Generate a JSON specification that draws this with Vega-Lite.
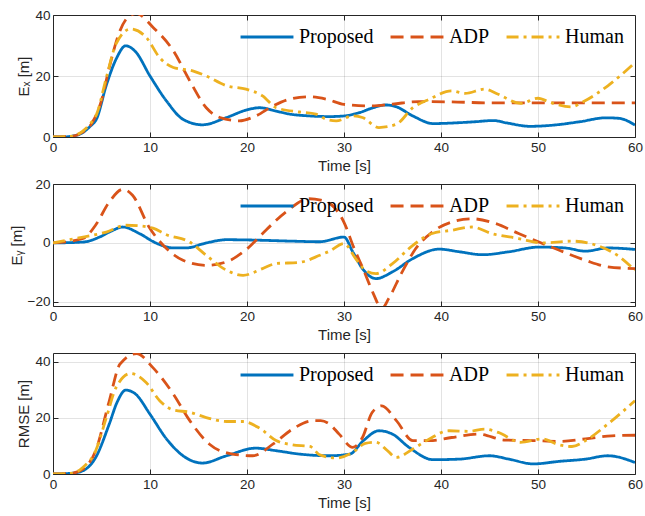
{
  "$schema": "https://vega.github.io/schema/vega-lite/v6.json",
  "padding": {"left": 8, "top": 7, "right": 5, "bottom": 0},
  "background": "white",
  "datasets": {
    "ex": [
      {"t":0,"v":0,"m":"Proposed"},{"t":1,"v":0,"m":"Proposed"},{"t":2,"v":0.3,"m":"Proposed"},{"t":3,"v":1.3,"m":"Proposed"},{"t":3.8,"v":3.4,"m":"Proposed"},{"t":4.5,"v":6,"m":"Proposed"},{"t":5.5,"v":17,"m":"Proposed"},{"t":6.5,"v":25.5,"m":"Proposed"},{"t":7.5,"v":29.9,"m":"Proposed"},{"t":8.5,"v":28,"m":"Proposed"},{"t":10,"v":20,"m":"Proposed"},{"t":11.7,"v":11.8,"m":"Proposed"},{"t":13.4,"v":5.8,"m":"Proposed"},{"t":15.4,"v":4,"m":"Proposed"},{"t":17.9,"v":6.4,"m":"Proposed"},{"t":20,"v":8.9,"m":"Proposed"},{"t":21.3,"v":9.6,"m":"Proposed"},{"t":23,"v":8.5,"m":"Proposed"},{"t":24.4,"v":7.5,"m":"Proposed"},{"t":26,"v":7,"m":"Proposed"},{"t":28.5,"v":6.7,"m":"Proposed"},{"t":30,"v":6.9,"m":"Proposed"},{"t":31.6,"v":8,"m":"Proposed"},{"t":33,"v":9.6,"m":"Proposed"},{"t":34.3,"v":10.5,"m":"Proposed"},{"t":35.4,"v":9.9,"m":"Proposed"},{"t":37.1,"v":6.9,"m":"Proposed"},{"t":39.2,"v":4.4,"m":"Proposed"},{"t":41.9,"v":4.7,"m":"Proposed"},{"t":43.5,"v":5,"m":"Proposed"},{"t":45.4,"v":5.4,"m":"Proposed"},{"t":46.8,"v":4.6,"m":"Proposed"},{"t":49.2,"v":3.5,"m":"Proposed"},{"t":51.6,"v":3.9,"m":"Proposed"},{"t":54.3,"v":5,"m":"Proposed"},{"t":57,"v":6.3,"m":"Proposed"},{"t":58.4,"v":6.1,"m":"Proposed"},{"t":60,"v":3.9,"m":"Proposed"},
      {"t":0,"v":0,"m":"ADP"},{"t":2,"v":0.3,"m":"ADP"},{"t":3,"v":1.5,"m":"ADP"},{"t":4,"v":4.5,"m":"ADP"},{"t":5,"v":12,"m":"ADP"},{"t":5.8,"v":22.8,"m":"ADP"},{"t":6.9,"v":34.8,"m":"ADP"},{"t":7.8,"v":39.5,"m":"ADP"},{"t":8.6,"v":40.5,"m":"ADP"},{"t":10.3,"v":36,"m":"ADP"},{"t":12.4,"v":28.3,"m":"ADP"},{"t":14.1,"v":18.4,"m":"ADP"},{"t":15.8,"v":9.6,"m":"ADP"},{"t":17.2,"v":6.4,"m":"ADP"},{"t":19.2,"v":5.3,"m":"ADP"},{"t":20.9,"v":6.9,"m":"ADP"},{"t":22.7,"v":10.2,"m":"ADP"},{"t":24.4,"v":12.4,"m":"ADP"},{"t":26.4,"v":13.2,"m":"ADP"},{"t":28.2,"v":12.4,"m":"ADP"},{"t":30,"v":10.7,"m":"ADP"},{"t":32.6,"v":10.2,"m":"ADP"},{"t":35,"v":10.8,"m":"ADP"},{"t":37.7,"v":11.6,"m":"ADP"},{"t":41.1,"v":11.5,"m":"ADP"},{"t":45,"v":11.2,"m":"ADP"},{"t":50,"v":11.2,"m":"ADP"},{"t":55,"v":11.2,"m":"ADP"},{"t":60,"v":11.2,"m":"ADP"},
      {"t":0,"v":0,"m":"Human"},{"t":2,"v":0.3,"m":"Human"},{"t":3,"v":1.8,"m":"Human"},{"t":3.8,"v":4.2,"m":"Human"},{"t":4.5,"v":7.5,"m":"Human"},{"t":5.5,"v":19.5,"m":"Human"},{"t":6.5,"v":30.5,"m":"Human"},{"t":8,"v":35.4,"m":"Human"},{"t":9.6,"v":32.7,"m":"Human"},{"t":11,"v":26,"m":"Human"},{"t":12.4,"v":22.8,"m":"Human"},{"t":14.4,"v":21.7,"m":"Human"},{"t":15.8,"v":20,"m":"Human"},{"t":17.9,"v":16.8,"m":"Human"},{"t":19.9,"v":15.7,"m":"Human"},{"t":21.6,"v":13.5,"m":"Human"},{"t":23,"v":9.6,"m":"Human"},{"t":25.4,"v":8.2,"m":"Human"},{"t":27.1,"v":7.5,"m":"Human"},{"t":28.2,"v":5.8,"m":"Human"},{"t":29.2,"v":5.3,"m":"Human"},{"t":30.9,"v":6.9,"m":"Human"},{"t":31.9,"v":6.4,"m":"Human"},{"t":33.6,"v":3.1,"m":"Human"},{"t":35.4,"v":4.2,"m":"Human"},{"t":37.1,"v":9.6,"m":"Human"},{"t":38.8,"v":12.4,"m":"Human"},{"t":41.1,"v":15.1,"m":"Human"},{"t":42.5,"v":14.3,"m":"Human"},{"t":44.5,"v":15.7,"m":"Human"},{"t":45.9,"v":14,"m":"Human"},{"t":48.2,"v":11,"m":"Human"},{"t":50,"v":12.7,"m":"Human"},{"t":51.3,"v":11.3,"m":"Human"},{"t":53.4,"v":9.9,"m":"Human"},{"t":54.8,"v":11.8,"m":"Human"},{"t":57.2,"v":16.8,"m":"Human"},{"t":60,"v":24.4,"m":"Human"}
    ],
    "ey": [
      {"t":0,"v":0,"m":"Proposed"},{"t":3.1,"v":0.3,"m":"Proposed"},{"t":4.8,"v":2,"m":"Proposed"},{"t":6,"v":4,"m":"Proposed"},{"t":7.2,"v":5.4,"m":"Proposed"},{"t":8.9,"v":3.2,"m":"Proposed"},{"t":10.6,"v":0,"m":"Proposed"},{"t":12.4,"v":-1.7,"m":"Proposed"},{"t":13.7,"v":-1.7,"m":"Proposed"},{"t":15.8,"v":0,"m":"Proposed"},{"t":17.9,"v":1.1,"m":"Proposed"},{"t":20.3,"v":1,"m":"Proposed"},{"t":24.7,"v":0.6,"m":"Proposed"},{"t":27.5,"v":0.4,"m":"Proposed"},{"t":30,"v":2,"m":"Proposed"},{"t":30.9,"v":-3,"m":"Proposed"},{"t":31.9,"v":-8.7,"m":"Proposed"},{"t":33.3,"v":-12.1,"m":"Proposed"},{"t":35,"v":-9.8,"m":"Proposed"},{"t":37.1,"v":-5.3,"m":"Proposed"},{"t":39.8,"v":-2.1,"m":"Proposed"},{"t":41.9,"v":-3,"m":"Proposed"},{"t":44.3,"v":-4,"m":"Proposed"},{"t":47,"v":-3,"m":"Proposed"},{"t":50.1,"v":-1.4,"m":"Proposed"},{"t":52.8,"v":-1.7,"m":"Proposed"},{"t":54.9,"v":-2.8,"m":"Proposed"},{"t":57.2,"v":-1.7,"m":"Proposed"},{"t":60,"v":-2.2,"m":"Proposed"},
      {"t":0,"v":0,"m":"ADP"},{"t":3.1,"v":1.5,"m":"ADP"},{"t":4.4,"v":6.1,"m":"ADP"},{"t":5.8,"v":13.9,"m":"ADP"},{"t":7.2,"v":18.2,"m":"ADP"},{"t":8.2,"v":16.2,"m":"ADP"},{"t":9.9,"v":5.4,"m":"ADP"},{"t":11.7,"v":-1.9,"m":"ADP"},{"t":13.4,"v":-5.9,"m":"ADP"},{"t":15.8,"v":-7.6,"m":"ADP"},{"t":17.9,"v":-6.4,"m":"ADP"},{"t":19.9,"v":-2.3,"m":"ADP"},{"t":22,"v":4.5,"m":"ADP"},{"t":24,"v":10.5,"m":"ADP"},{"t":26.4,"v":15,"m":"ADP"},{"t":27.6,"v":14.5,"m":"ADP"},{"t":29,"v":12,"m":"ADP"},{"t":30,"v":7,"m":"ADP"},{"t":31,"v":-1.5,"m":"ADP"},{"t":32,"v":-9,"m":"ADP"},{"t":33,"v":-17,"m":"ADP"},{"t":33.9,"v":-22.3,"m":"ADP"},{"t":34.6,"v":-18.9,"m":"ADP"},{"t":36,"v":-9.8,"m":"ADP"},{"t":37.4,"v":-1.9,"m":"ADP"},{"t":39.1,"v":3.7,"m":"ADP"},{"t":41.1,"v":7.1,"m":"ADP"},{"t":43.2,"v":8.2,"m":"ADP"},{"t":45.6,"v":6.6,"m":"ADP"},{"t":48,"v":3.2,"m":"ADP"},{"t":50.1,"v":0.3,"m":"ADP"},{"t":52.2,"v":-2.5,"m":"ADP"},{"t":54.9,"v":-5.9,"m":"ADP"},{"t":57.2,"v":-8.1,"m":"ADP"},{"t":60,"v":-8.7,"m":"ADP"},
      {"t":0,"v":0,"m":"Human"},{"t":3.1,"v":2,"m":"Human"},{"t":5.5,"v":3.7,"m":"Human"},{"t":7.5,"v":6,"m":"Human"},{"t":8.9,"v":5.8,"m":"Human"},{"t":10.3,"v":5,"m":"Human"},{"t":11.7,"v":2.8,"m":"Human"},{"t":14.1,"v":0.3,"m":"Human"},{"t":15.8,"v":-4.2,"m":"Human"},{"t":17.9,"v":-9.3,"m":"Human"},{"t":19.6,"v":-11,"m":"Human"},{"t":21.6,"v":-8.7,"m":"Human"},{"t":23,"v":-7,"m":"Human"},{"t":25.4,"v":-6.6,"m":"Human"},{"t":27.5,"v":-4.2,"m":"Human"},{"t":28.5,"v":-2.8,"m":"Human"},{"t":30,"v":-0.2,"m":"Human"},{"t":31.2,"v":-5.3,"m":"Human"},{"t":32.2,"v":-9.3,"m":"Human"},{"t":33.3,"v":-10.4,"m":"Human"},{"t":35,"v":-7,"m":"Human"},{"t":37.1,"v":-0.8,"m":"Human"},{"t":39.1,"v":3.2,"m":"Human"},{"t":41.1,"v":4.3,"m":"Human"},{"t":43.2,"v":5.4,"m":"Human"},{"t":45.2,"v":3.2,"m":"Human"},{"t":48,"v":1.5,"m":"Human"},{"t":50.4,"v":0,"m":"Human"},{"t":53.5,"v":0.6,"m":"Human"},{"t":56.3,"v":-1.1,"m":"Human"},{"t":58.4,"v":-4.7,"m":"Human"},{"t":60,"v":-9.3,"m":"Human"}
    ],
    "rmse": [
      {"t":0,"v":0,"m":"Proposed"},{"t":2,"v":0.3,"m":"Proposed"},{"t":3.1,"v":1.2,"m":"Proposed"},{"t":4.4,"v":5.9,"m":"Proposed"},{"t":5.8,"v":17.8,"m":"Proposed"},{"t":6.6,"v":25.5,"m":"Proposed"},{"t":7.5,"v":29.9,"m":"Proposed"},{"t":8.5,"v":28.5,"m":"Proposed"},{"t":10,"v":21.3,"m":"Proposed"},{"t":11.7,"v":12.5,"m":"Proposed"},{"t":13.4,"v":6.5,"m":"Proposed"},{"t":15.4,"v":3.9,"m":"Proposed"},{"t":17.9,"v":6.5,"m":"Proposed"},{"t":20.9,"v":9.2,"m":"Proposed"},{"t":23,"v":8.3,"m":"Proposed"},{"t":25.4,"v":7.1,"m":"Proposed"},{"t":28.5,"v":6.5,"m":"Proposed"},{"t":30.6,"v":7.1,"m":"Proposed"},{"t":32,"v":11.9,"m":"Proposed"},{"t":33.6,"v":15.4,"m":"Proposed"},{"t":35,"v":14.2,"m":"Proposed"},{"t":36.7,"v":9.5,"m":"Proposed"},{"t":39.2,"v":5.1,"m":"Proposed"},{"t":41.9,"v":5.3,"m":"Proposed"},{"t":45,"v":6.5,"m":"Proposed"},{"t":47,"v":5.3,"m":"Proposed"},{"t":49.5,"v":3.6,"m":"Proposed"},{"t":52.2,"v":4.5,"m":"Proposed"},{"t":54.9,"v":5.3,"m":"Proposed"},{"t":57.2,"v":6.5,"m":"Proposed"},{"t":60,"v":4.1,"m":"Proposed"},
      {"t":0,"v":0,"m":"ADP"},{"t":2,"v":0.3,"m":"ADP"},{"t":3.1,"v":1.8,"m":"ADP"},{"t":4.4,"v":8.3,"m":"ADP"},{"t":5.8,"v":26,"m":"ADP"},{"t":6.9,"v":39.1,"m":"ADP"},{"t":8.6,"v":42.9,"m":"ADP"},{"t":10.3,"v":37.9,"m":"ADP"},{"t":12.4,"v":28.5,"m":"ADP"},{"t":14.1,"v":19,"m":"ADP"},{"t":16.1,"v":10.7,"m":"ADP"},{"t":18.5,"v":7.1,"m":"ADP"},{"t":20.6,"v":6.5,"m":"ADP"},{"t":22.7,"v":10.7,"m":"ADP"},{"t":24.7,"v":16,"m":"ADP"},{"t":26.8,"v":19,"m":"ADP"},{"t":27.6,"v":19,"m":"ADP"},{"t":28.5,"v":17.8,"m":"ADP"},{"t":29.5,"v":14.2,"m":"ADP"},{"t":30.9,"v":9.5,"m":"ADP"},{"t":31.9,"v":13,"m":"ADP"},{"t":32.9,"v":21.9,"m":"ADP"},{"t":33.9,"v":24.3,"m":"ADP"},{"t":35.4,"v":19,"m":"ADP"},{"t":37.1,"v":11.9,"m":"ADP"},{"t":38.8,"v":11.9,"m":"ADP"},{"t":41.1,"v":13,"m":"ADP"},{"t":43.9,"v":14.2,"m":"ADP"},{"t":46.6,"v":12.1,"m":"ADP"},{"t":49.5,"v":11.9,"m":"ADP"},{"t":52.2,"v":11.6,"m":"ADP"},{"t":54.9,"v":12.5,"m":"ADP"},{"t":57.6,"v":13.6,"m":"ADP"},{"t":60,"v":13.8,"m":"ADP"},
      {"t":0,"v":0,"m":"Human"},{"t":2,"v":0.3,"m":"Human"},{"t":3.1,"v":2.4,"m":"Human"},{"t":4.4,"v":8.3,"m":"Human"},{"t":5.5,"v":20.1,"m":"Human"},{"t":6.5,"v":30.8,"m":"Human"},{"t":8,"v":35.8,"m":"Human"},{"t":9.6,"v":32.6,"m":"Human"},{"t":11,"v":26.1,"m":"Human"},{"t":12.4,"v":22.8,"m":"Human"},{"t":14.1,"v":22,"m":"Human"},{"t":15.8,"v":20.1,"m":"Human"},{"t":17.9,"v":18.7,"m":"Human"},{"t":19.6,"v":18.7,"m":"Human"},{"t":21.3,"v":16.3,"m":"Human"},{"t":23,"v":11.9,"m":"Human"},{"t":24.7,"v":10.4,"m":"Human"},{"t":26.5,"v":9.8,"m":"Human"},{"t":27.5,"v":6.8,"m":"Human"},{"t":29.2,"v":5.7,"m":"Human"},{"t":30.9,"v":7.7,"m":"Human"},{"t":32.2,"v":10.9,"m":"Human"},{"t":33.3,"v":11.3,"m":"Human"},{"t":34.3,"v":8.9,"m":"Human"},{"t":35.4,"v":5.9,"m":"Human"},{"t":37.1,"v":8.9,"m":"Human"},{"t":38.8,"v":12.5,"m":"Human"},{"t":40.8,"v":15.4,"m":"Human"},{"t":42.9,"v":15.2,"m":"Human"},{"t":44.5,"v":16,"m":"Human"},{"t":45.9,"v":14.8,"m":"Human"},{"t":48.2,"v":11.3,"m":"Human"},{"t":50.4,"v":12.5,"m":"Human"},{"t":52.2,"v":10.4,"m":"Human"},{"t":53.5,"v":9.8,"m":"Human"},{"t":54.9,"v":11.9,"m":"Human"},{"t":57.2,"v":17.8,"m":"Human"},{"t":60,"v":26.1,"m":"Human"}
    ]
  },
  "spacing": 47,
  "bounds": "flush",
  "resolve": {"legend": {"color": "independent", "strokeDash": "independent"}},
  "vconcat": [
    {
      "width": 582, "height": 122,
      "data": {"name": "ex"},
      "layer": [
        {
          "mark": {"type": "line", "strokeWidth": 2.8, "clip": true, "interpolate": "monotone"},
          "encoding": {
            "x": {"field": "t", "type": "quantitative", "scale": {"domain": [0, 60], "nice": false}, "axis": {"title": "Time [s]", "values": [0,10,20,30,40,50,60]}},
            "y": {"field": "v", "type": "quantitative", "scale": {"domain": [0, 40], "nice": false}, "axis": {"title": "Eₓ [m]", "values": [0,20,40]}},
            "color": {"field": "m", "type": "nominal", "scale": {"domain": ["Proposed","ADP","Human"], "range": ["#0072BD","#D95319","#EDB120"]}, "legend": {"title": null}},
            "strokeDash": {"field": "m", "type": "nominal", "scale": {"domain": ["Proposed","ADP","Human"], "range": [[1,0],[13,7],[12,5,3,5]]}, "legend": {"title": null}}
          }
        },
        {
          "mark": {"type": "line", "opacity": 0},
          "encoding": {
            "x": {"field": "t", "type": "quantitative", "axis": {"orient": "top", "labels": false, "title": null, "grid": false, "values": [10,20,30,40,50]}},
            "y": {"field": "v", "type": "quantitative", "axis": {"orient": "right", "labels": false, "title": null, "grid": false, "values": [20]}}
          }
        }
      ],
      "resolve": {"axis": {"x": "independent", "y": "independent"}}
    },
    {
      "width": 582, "height": 122,
      "data": {"name": "ey"},
      "layer": [
        {
          "mark": {"type": "line", "strokeWidth": 2.8, "clip": true, "interpolate": "monotone"},
          "encoding": {
            "x": {"field": "t", "type": "quantitative", "scale": {"domain": [0, 60], "nice": false}, "axis": {"title": "Time [s]", "values": [0,10,20,30,40,50,60]}},
            "y": {"field": "v", "type": "quantitative", "scale": {"domain": [-21.4, 20], "nice": false}, "axis": {"title": "Eᵧ [m]", "values": [-20,0,20]}},
            "color": {"field": "m", "type": "nominal", "scale": {"domain": ["Proposed","ADP","Human"], "range": ["#0072BD","#D95319","#EDB120"]}, "legend": {"title": null}},
            "strokeDash": {"field": "m", "type": "nominal", "scale": {"domain": ["Proposed","ADP","Human"], "range": [[1,0],[13,7],[12,5,3,5]]}, "legend": {"title": null}}
          }
        },
        {
          "mark": {"type": "line", "opacity": 0},
          "encoding": {
            "x": {"field": "t", "type": "quantitative", "axis": {"orient": "top", "labels": false, "title": null, "grid": false, "values": [10,20,30,40,50]}},
            "y": {"field": "v", "type": "quantitative", "axis": {"orient": "right", "labels": false, "title": null, "grid": false, "values": [-20,0]}}
          }
        }
      ],
      "resolve": {"axis": {"x": "independent", "y": "independent"}}
    },
    {
      "width": 582, "height": 121,
      "data": {"name": "rmse"},
      "layer": [
        {
          "mark": {"type": "line", "strokeWidth": 2.8, "clip": true, "interpolate": "monotone"},
          "encoding": {
            "x": {"field": "t", "type": "quantitative", "scale": {"domain": [0, 60], "nice": false}, "axis": {"title": "Time [s]", "values": [0,10,20,30,40,50,60]}},
            "y": {"field": "v", "type": "quantitative", "scale": {"domain": [0, 43.1], "nice": false}, "axis": {"title": "RMSE [m]", "values": [0,20,40]}},
            "color": {"field": "m", "type": "nominal", "scale": {"domain": ["Proposed","ADP","Human"], "range": ["#0072BD","#D95319","#EDB120"]}, "legend": {"title": null}},
            "strokeDash": {"field": "m", "type": "nominal", "scale": {"domain": ["Proposed","ADP","Human"], "range": [[1,0],[13,7],[12,5,3,5]]}, "legend": {"title": null}}
          }
        },
        {
          "mark": {"type": "line", "opacity": 0},
          "encoding": {
            "x": {"field": "t", "type": "quantitative", "axis": {"orient": "top", "labels": false, "title": null, "grid": false, "values": [10,20,30,40,50]}},
            "y": {"field": "v", "type": "quantitative", "axis": {"orient": "right", "labels": false, "title": null, "grid": false, "values": [20,40]}}
          }
        }
      ],
      "resolve": {"axis": {"x": "independent", "y": "independent"}}
    }
  ],
  "config": {
    "view": {"stroke": "#262626", "strokeWidth": 1},
    "axis": {
      "domain": false,
      "labelFont": "Liberation Sans", "labelFontSize": 13.5, "labelColor": "#262626",
      "titleFont": "Liberation Sans", "titleFontSize": 15, "titleFontWeight": "normal", "titleColor": "#262626",
      "gridColor": "#262626", "gridOpacity": 0.13, "gridWidth": 1,
      "tickColor": "#262626", "tickSize": -5, "tickWidth": 1,
      "labelFlush": false, "labelOverlap": false, "labelPadding": 8
    },
    "axisX": {"titlePadding": 5},
    "axisY": {"titlePadding": 3},
    "legend": {
      "orient": "none", "legendX": 186, "legendY": -6, "direction": "horizontal", "symbolType": "stroke", "symbolSize": 2800,
      "symbolStrokeWidth": 3, "labelFont": "Liberation Serif", "labelFontSize": 20, "labelColor": "#000000",
      "columnPadding": 10, "labelOffset": 4, "padding": 0, "labelLimit": 300
    }
  }
}
